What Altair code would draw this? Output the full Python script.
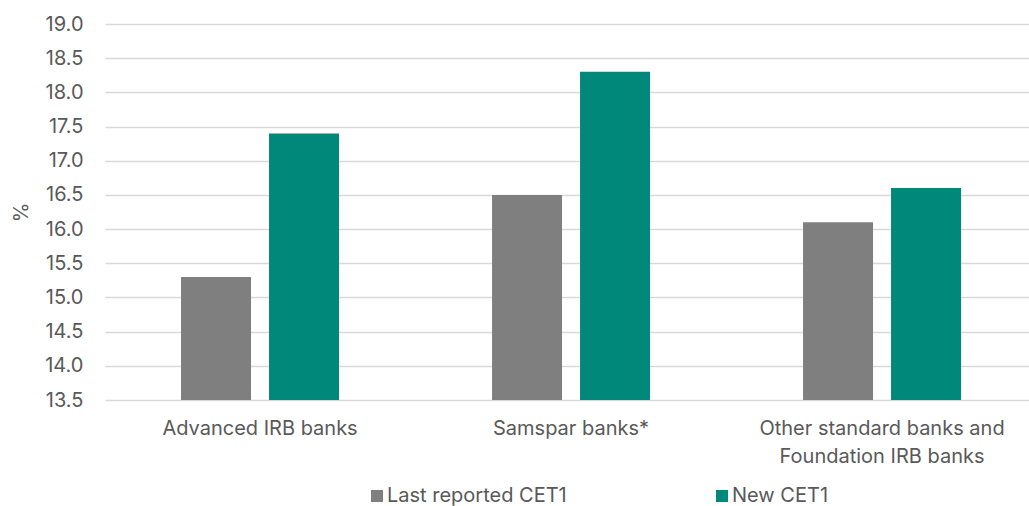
import altair as alt
import pandas as pd

# Bank groups, series names and CET1 ratios (%)
groups = ["Advanced IRB banks", "Samspar banks*", "Other standard banks and Foundation IRB banks"]
series = ["Last reported CET1", "New CET1"]
last_reported = [15.3, 16.5, 16.1]
new_cet1 = [17.4, 18.3, 16.6]
y_ticks = [13.5, 14.0, 14.5, 15.0, 15.5, 16.0, 16.5, 17.0, 17.5, 18.0, 18.5, 19.0]
y_base = 13.5

rows = []
for g, a, b in zip(groups, last_reported, new_cet1):
    rows.append({"group": g, "series": series[0], "value": a})
    rows.append({"group": g, "series": series[1], "value": b})
df = pd.DataFrame(rows)

FONT = "Inter"
SIZE = 20
TEXT = "#595959"

label_expr = (
    "datum.label == 'Other standard banks and Foundation IRB banks' "
    "? ['Other standard banks and', 'Foundation IRB banks'] : datum.label"
)

chart = (
    alt.Chart(df)
    .mark_bar()
    .encode(
        x=alt.X(
            "group:N",
            sort=groups,
            scale=alt.Scale(paddingInner=0.492, paddingOuter=0.2315, align=0.528),
            axis=alt.Axis(
                title=None,
                labelAngle=0,
                labelExpr=label_expr,
                labelFont=FONT,
                labelFontSize=SIZE,
                labelColor=TEXT,
                labelPadding=18,
                labelLineHeight=28,
                labelLimit=400,
                ticks=False,
                domain=False,
                grid=False,
            ),
        ),
        xOffset=alt.XOffset(
            "series:N",
            sort=series,
            scale=alt.Scale(paddingInner=0.2045, paddingOuter=0),
        ),
        y=alt.Y(
            "value:Q",
            scale=alt.Scale(domain=[13.5, 19.0], nice=False, zero=False),
            axis=alt.Axis(
                title="%",
                titleFont=FONT,
                titleFontSize=SIZE,
                titleFontWeight="normal",
                titleColor=TEXT,
                titlePadding=13,
                values=y_ticks,
                format=".1f",
                labelFont=FONT,
                labelFontSize=SIZE,
                labelColor=TEXT,
                labelPadding=22,
                ticks=False,
                domain=False,
                gridColor="#d9d9d9",
                gridWidth=1.3,
            ),
        ),
        y2=alt.datum(y_base),
        color=alt.Color(
            "series:N",
            sort=series,
            scale=alt.Scale(domain=series, range=["#7f7f7f", "#00897b"]),
            legend=alt.Legend(
                title=None,
                orient="none",
                direction="horizontal",
                legendX=262,
                legendY=462,
                symbolType="square",
                symbolSize=144,
                symbolStrokeWidth=0,
                symbolOpacity=1,
                labelFont=FONT,
                labelFontSize=SIZE,
                labelColor=TEXT,
                labelOffset=0,
                columnPadding=145,
                labelLimit=300,
            ),
        ),
    )
    .properties(
        width=924,
        height=376,
        autosize="none",
        padding={"left": 105, "top": 24, "right": 0, "bottom": 106},
        background="white",
    )
    .configure_view(strokeWidth=0, stroke="transparent")
)

chart.save("out.html", embed_options={"renderer": "svg", "actions": False})
